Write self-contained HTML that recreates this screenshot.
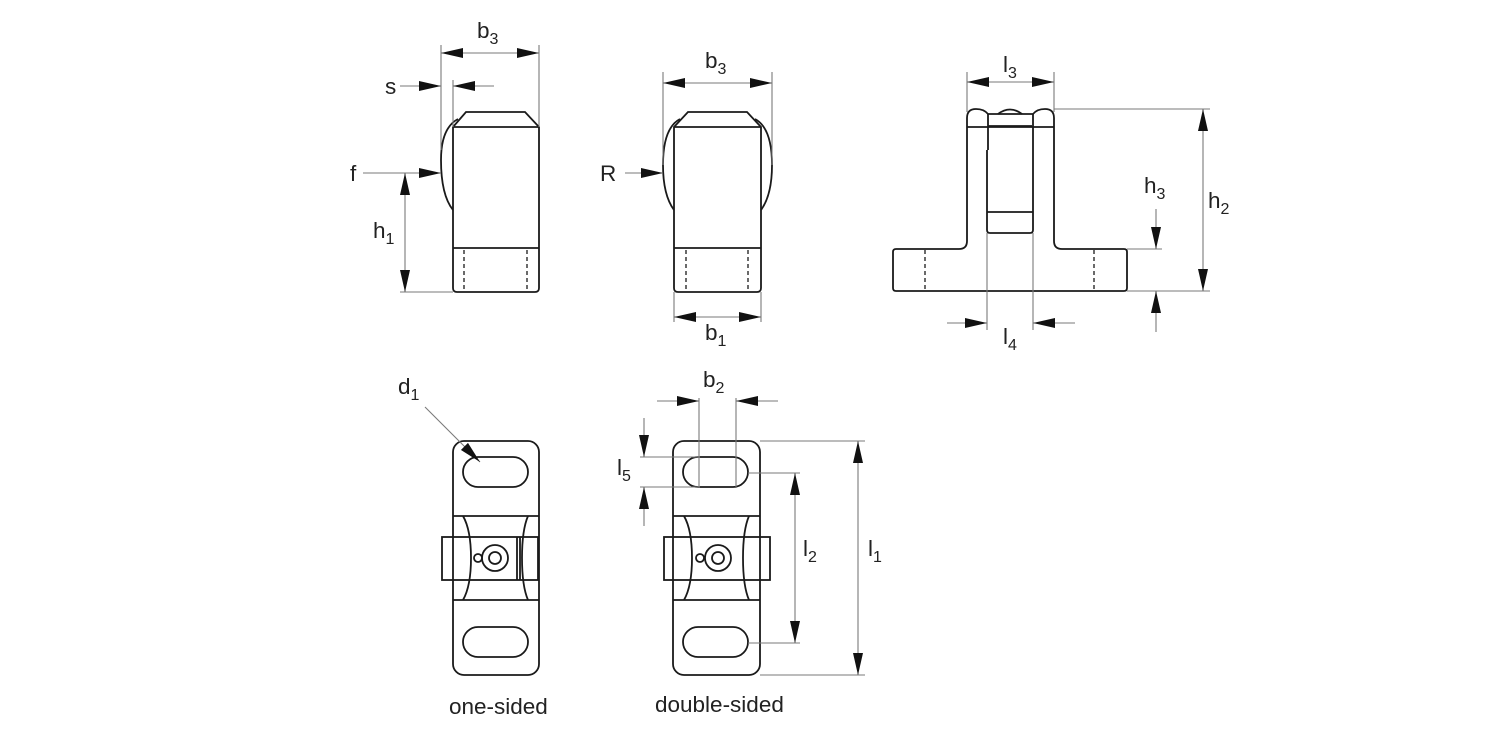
<!DOCTYPE html>
<html><head><meta charset="utf-8"><style>
html,body{margin:0;padding:0;background:#fff}
svg{display:block}
text{font-family:"Liberation Sans",Arial,sans-serif;font-size:22.5px;fill:#222}
.s{font-size:16px}
.o{fill:none;stroke:#1a1a1a;stroke-width:1.8}
.d{fill:none;stroke:#7a7a7a;stroke-width:1.1}
.dash{fill:none;stroke:#1a1a1a;stroke-width:1.3;stroke-dasharray:4,3}
</style></head><body>
<svg width="1500" height="750" viewBox="0 0 1500 750">
<defs>
<marker id="a" viewBox="0 0 22 10" refX="22" refY="5" markerWidth="22" markerHeight="10" markerUnits="userSpaceOnUse" orient="auto-start-reverse"><path d="M0,0L22,5L0,10z" fill="#111"/></marker>
</defs>

<!-- View 1 -->
<path class="o" d="M453,127 L466,112 L525,112 L539,127 L539,288 Q539,292 535,292 L457,292 Q453,292 453,288 Z"/>
<path class="o" d="M453,127 L539,127"/>
<path class="o" d="M458,119 Q441,128 441,160 Q441,195 453,210"/>
<line class="o" x1="453" y1="248" x2="539" y2="248"/>
<line class="dash" x1="464" y1="250" x2="464" y2="291"/>
<line class="dash" x1="527" y1="250" x2="527" y2="291"/>
<line class="d" x1="441" y1="45" x2="441" y2="150"/>
<line class="d" x1="539" y1="45" x2="539" y2="127"/>
<line class="d" x1="441" y1="53" x2="539" y2="53" marker-start="url(#a)" marker-end="url(#a)"/>
<line class="d" x1="453" y1="80" x2="453" y2="127"/>
<line class="d" x1="400" y1="86" x2="441" y2="86" marker-end="url(#a)"/>
<line class="d" x1="494" y1="86" x2="453" y2="86" marker-end="url(#a)"/>
<line class="d" x1="363" y1="173" x2="441" y2="173" marker-end="url(#a)"/>
<line class="d" x1="400" y1="292" x2="453" y2="292"/>
<line class="d" x1="405" y1="173" x2="405" y2="292" marker-start="url(#a)" marker-end="url(#a)"/>
<text x="477" y="38">b<tspan class="s" dy="6">3</tspan></text>
<text x="385" y="94">s</text>
<text x="350" y="181">f</text>
<text x="373" y="238">h<tspan class="s" dy="6">1</tspan></text>

<!-- View 2 -->
<path class="o" d="M674,127 L688,112 L747,112 L761,127 L761,288 Q761,292 757,292 L678,292 Q674,292 674,288 Z"/>
<path class="o" d="M674,127 L761,127"/>
<path class="o" d="M680,119 Q663,128 663,165 Q663,195 674,210"/>
<path class="o" d="M755,119 Q772,128 772,165 Q772,195 761,210"/>
<line class="o" x1="674" y1="248" x2="761" y2="248"/>
<line class="dash" x1="686" y1="250" x2="686" y2="291"/>
<line class="dash" x1="748" y1="250" x2="748" y2="291"/>
<line class="d" x1="663" y1="72" x2="663" y2="165"/>
<line class="d" x1="772" y1="72" x2="772" y2="165"/>
<line class="d" x1="663" y1="83" x2="772" y2="83" marker-start="url(#a)" marker-end="url(#a)"/>
<line class="d" x1="625" y1="173" x2="663" y2="173" marker-end="url(#a)"/>
<line class="d" x1="674" y1="292" x2="674" y2="322"/>
<line class="d" x1="761" y1="292" x2="761" y2="322"/>
<line class="d" x1="674" y1="317" x2="761" y2="317" marker-start="url(#a)" marker-end="url(#a)"/>
<text x="705" y="68">b<tspan class="s" dy="6">3</tspan></text>
<text x="600" y="181">R</text>
<text x="705" y="340">b<tspan class="s" dy="6">1</tspan></text>

<!-- View 3 -->
<path class="o" d="M896,249 L959,249 Q967,249 967,241 L967,118 Q967,109 976,109 Q984,109 988,114 L1033,114 Q1037,109 1045,109 Q1054,109 1054,118 L1054,241 Q1054,249 1062,249 L1124,249 Q1127,249 1127,252 L1127,288 Q1127,291 1124,291 L896,291 Q893,291 893,288 L893,252 Q893,249 896,249 Z"/>
<path class="o" d="M998,114 Q1010,105 1022,114"/>
<line class="o" x1="967" y1="127" x2="1054" y2="127"/>
<line class="o" x1="988" y1="114" x2="988" y2="127"/>
<line class="o" x1="1033" y1="114" x2="1033" y2="127"/>
<path class="o" d="M987,150 L987,230 Q987,233 990,233 L1030,233 Q1033,233 1033,230 L1033,150"/>
<line class="o" x1="988" y1="127" x2="988" y2="150"/>
<line class="o" x1="1033" y1="127" x2="1033" y2="150"/>
<line class="o" x1="987" y1="212" x2="1033" y2="212"/>
<line class="o" x1="988" y1="126" x2="1032" y2="126"/>
<line class="dash" x1="925" y1="250" x2="925" y2="290"/>
<line class="dash" x1="1094" y1="250" x2="1094" y2="290"/>
<line class="d" x1="967" y1="72" x2="967" y2="112"/>
<line class="d" x1="1054" y1="72" x2="1054" y2="112"/>
<line class="d" x1="967" y1="82" x2="1054" y2="82" marker-start="url(#a)" marker-end="url(#a)"/>
<line class="d" x1="987" y1="233" x2="987" y2="330"/>
<line class="d" x1="1033" y1="233" x2="1033" y2="330"/>
<line class="d" x1="947" y1="323" x2="987" y2="323" marker-end="url(#a)"/>
<line class="d" x1="1075" y1="323" x2="1033" y2="323" marker-end="url(#a)"/>
<line class="d" x1="1054" y1="109" x2="1210" y2="109"/>
<line class="d" x1="1127" y1="291" x2="1210" y2="291"/>
<line class="d" x1="1127" y1="249" x2="1162" y2="249"/>
<line class="d" x1="1203" y1="109" x2="1203" y2="291" marker-start="url(#a)" marker-end="url(#a)"/>
<line class="d" x1="1156" y1="209" x2="1156" y2="249" marker-end="url(#a)"/>
<line class="d" x1="1156" y1="332" x2="1156" y2="291" marker-end="url(#a)"/>
<text x="1003" y="72">l<tspan class="s" dy="6">3</tspan></text>
<text x="1003" y="344">l<tspan class="s" dy="6">4</tspan></text>
<text x="1144" y="193">h<tspan class="s" dy="6">3</tspan></text>
<text x="1208" y="208">h<tspan class="s" dy="6">2</tspan></text>

<!-- View 4 one-sided -->
<rect class="o" x="453" y="441" width="86" height="234" rx="11"/>
<rect class="o" x="463" y="457" width="65" height="30" rx="15"/>
<rect class="o" x="463" y="627" width="65" height="30" rx="15"/>
<line class="o" x1="453" y1="516" x2="539" y2="516"/>
<line class="o" x1="453" y1="600" x2="539" y2="600"/>
<rect class="o" x="442" y="537" width="96" height="43"/>
<line class="o" x1="517" y1="537" x2="517" y2="580"/>
<line class="o" x1="520" y1="537" x2="520" y2="580"/>
<path class="o" d="M463,516 Q471,530 471,558 Q471,586 463,600"/>
<path class="o" d="M528,516 Q522,530 522,558 Q522,586 528,600"/>
<circle class="o" cx="495" cy="558" r="13"/>
<circle class="o" cx="495" cy="558" r="6"/>
<circle class="o" cx="478" cy="558" r="4"/>
<line class="d" x1="425" y1="407" x2="480" y2="462" marker-end="url(#a)"/>
<text x="398" y="394">d<tspan class="s" dy="6">1</tspan></text>
<text x="449" y="714">one-sided</text>

<!-- View 4 double-sided -->
<rect class="o" x="673" y="441" width="87" height="234" rx="11"/>
<rect class="o" x="683" y="457" width="65" height="30" rx="15"/>
<rect class="o" x="683" y="627" width="65" height="30" rx="15"/>
<line class="o" x1="673" y1="516" x2="760" y2="516"/>
<line class="o" x1="673" y1="600" x2="760" y2="600"/>
<rect class="o" x="664" y="537" width="106" height="43"/>
<path class="o" d="M684,516 Q692,530 692,558 Q692,586 684,600"/>
<path class="o" d="M749,516 Q743,530 743,558 Q743,586 749,600"/>
<circle class="o" cx="718" cy="558" r="13"/>
<circle class="o" cx="718" cy="558" r="6"/>
<circle class="o" cx="700" cy="558" r="4"/>
<line class="d" x1="699" y1="398" x2="699" y2="487"/>
<line class="d" x1="736" y1="398" x2="736" y2="487"/>
<line class="d" x1="657" y1="401" x2="699" y2="401" marker-end="url(#a)"/>
<line class="d" x1="778" y1="401" x2="736" y2="401" marker-end="url(#a)"/>
<line class="d" x1="640" y1="457" x2="700" y2="457"/>
<line class="d" x1="640" y1="487" x2="700" y2="487"/>
<line class="d" x1="644" y1="418" x2="644" y2="457" marker-end="url(#a)"/>
<line class="d" x1="644" y1="526" x2="644" y2="487" marker-end="url(#a)"/>
<line class="d" x1="748" y1="473" x2="800" y2="473"/>
<line class="d" x1="748" y1="643" x2="800" y2="643"/>
<line class="d" x1="795" y1="473" x2="795" y2="643" marker-start="url(#a)" marker-end="url(#a)"/>
<line class="d" x1="760" y1="441" x2="865" y2="441"/>
<line class="d" x1="760" y1="675" x2="865" y2="675"/>
<line class="d" x1="858" y1="441" x2="858" y2="675" marker-start="url(#a)" marker-end="url(#a)"/>
<text x="703" y="387">b<tspan class="s" dy="6">2</tspan></text>
<text x="617" y="475">l<tspan class="s" dy="6">5</tspan></text>
<text x="803" y="556">l<tspan class="s" dy="6">2</tspan></text>
<text x="868" y="556">l<tspan class="s" dy="6">1</tspan></text>
<text x="655" y="712">double-sided</text>
</svg>
</body></html>
